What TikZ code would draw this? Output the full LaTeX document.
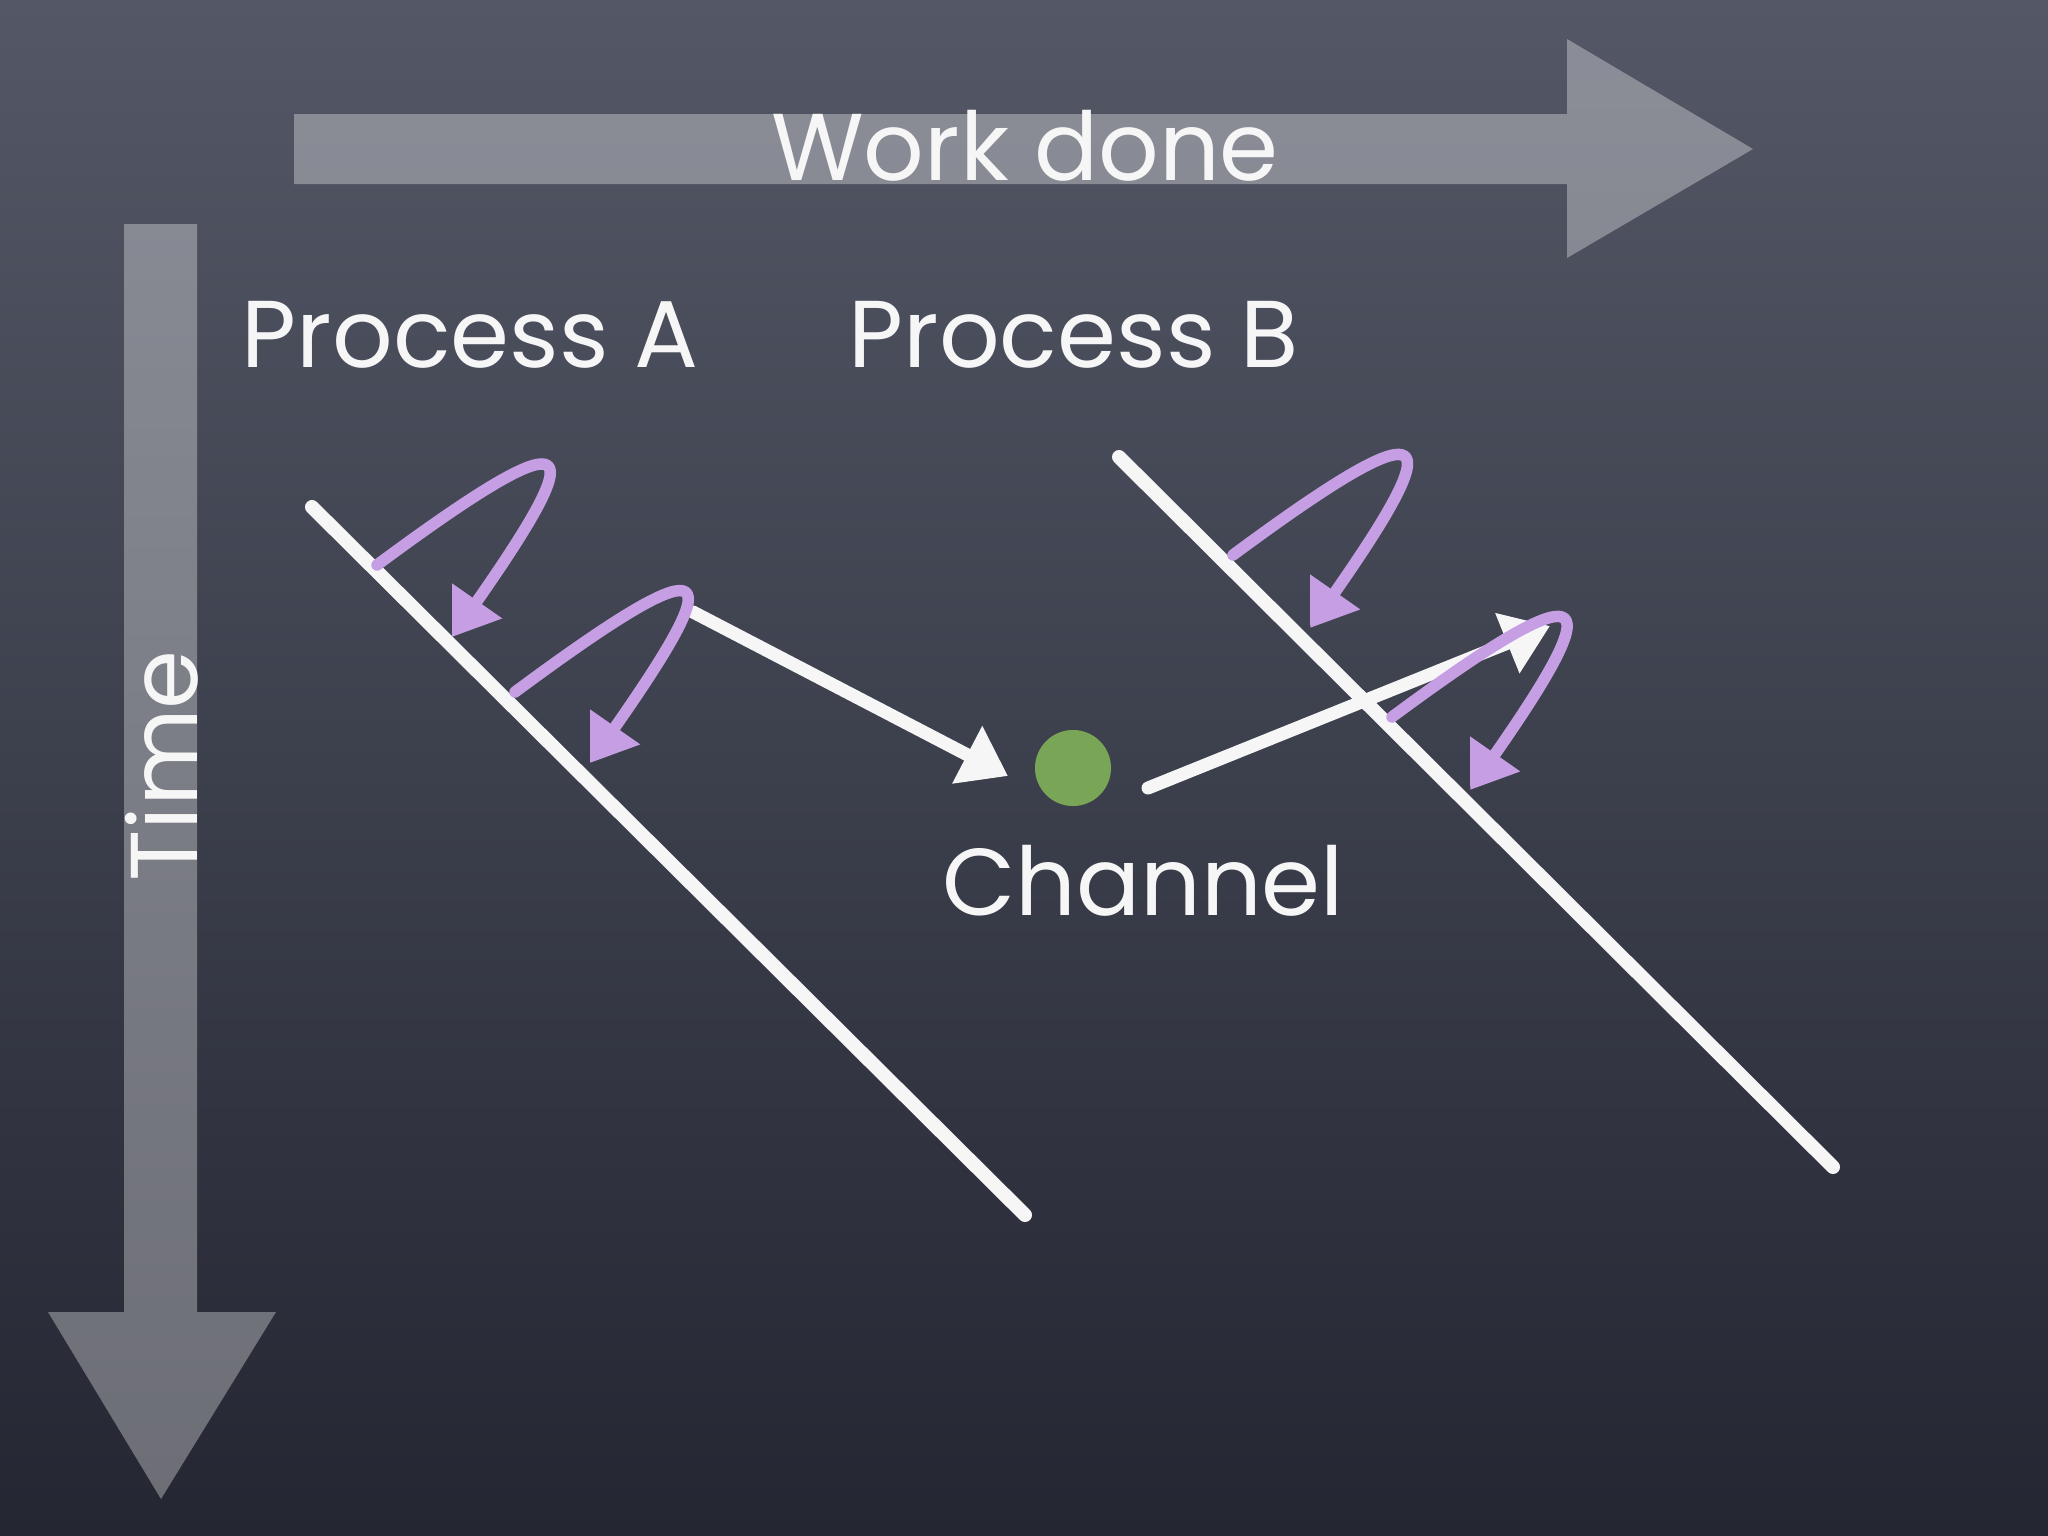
\documentclass[tikz,border=0pt]{standalone}
\usepackage{fontspec}
\setmainfont{Poppins}
\usetikzlibrary{arrows.meta}

\definecolor{bgtop}{RGB}{84,88,102}
\definecolor{bgmid}{RGB}{74,78,92}
\definecolor{bgbot}{RGB}{36,38,50}
\definecolor{chalkwhite}{RGB}{246,246,246}
\definecolor{lilac}{RGB}{198,158,228}
\definecolor{pea}{RGB}{121,165,86}

\begin{document}
\begin{tikzpicture}[x=0.01cm,y=-0.01cm,line join=round,
                    >={Triangle[length=4.6mm,width=6.2mm]}]
  \tikzstyle{chalk}=[draw=chalkwhite,line width=1.4mm,line cap=round]
  \tikzstyle{swirl}=[draw=lilac,line width=1.15mm,line cap=round,
                     -{Triangle[length=4.4mm,width=5.8mm]}]
  \tikzstyle{words}=[text=chalkwhite,font=\fontsize{27}{30}\selectfont,
                     anchor=base,inner sep=0pt]
  \tikzstyle{bigarrow}=[fill=white,fill opacity=0.33]

  \shade[top color=bgtop,middle color=bgmid,bottom color=bgbot]
    (0,0) rectangle (2048,1536);

  \fill[bigarrow] (294,114) -- (1567,114) -- (1567,39) -- (1753,149)
                  -- (1567,258) -- (1567,184) -- (294,184) -- cycle;
  \fill[bigarrow] (124,224) -- (197,224) -- (197,1312) -- (276,1312)
                  -- (161,1499) -- (48,1312) -- (124,1312) -- cycle;

  \node[words]          (work)  at (1025,180) {Work done};
  \node[words,rotate=90] (time) at (197,766)  {Time};
  \node[words]          (A)     at (470,367)  {Process A};
  \node[words]          (B)     at (1074,367) {Process B};
  \node[words]          (chanlbl) at (1143,915) {Channel};
  \node[circle,fill=pea,minimum size=7.6mm,inner sep=0pt] (chan) at (1073,768) {};

  \coordinate (A1) at (312,507);   \coordinate (A2) at (1025,1215);
  \coordinate (B1) at (1119,457);  \coordinate (B2) at (1833,1167);
  \draw[chalk] (A1) -- (A2);
  \draw[chalk] (B1) -- (B2);

  \coordinate (send)    at (693,612);
  \coordinate (recv)    at (1008,776);
  \coordinate (take)    at (1148,788);
  \coordinate (deliver) at (1550,626);
  \draw[chalk,->,line width=1.3mm] (send) -- (recv);
  \draw[chalk,->,line width=1.3mm] (take) -- (deliver);

  \coordinate (a1s) at (377,565);  \coordinate (a1e) at (452,637);
  \coordinate (a2s) at (515,692);  \coordinate (a2e) at (590,763);
  \coordinate (b1s) at (1233,555); \coordinate (b1e) at (1310,628);
  \coordinate (b2s) at (1392,717); \coordinate (b2e) at (1470,790);
  \draw[swirl] (a1s) .. controls +(216,-160) and +(132,-189) .. (a1e);
  \draw[swirl] (a2s) .. controls +(216,-160) and +(132,-189) .. (a2e);
  \draw[swirl] (b1s) .. controls +(216,-160) and +(132,-189) .. (b1e);
  \draw[swirl] (b2s) .. controls +(216,-160) and +(132,-189) .. (b2e);
\end{tikzpicture}
\end{document}
